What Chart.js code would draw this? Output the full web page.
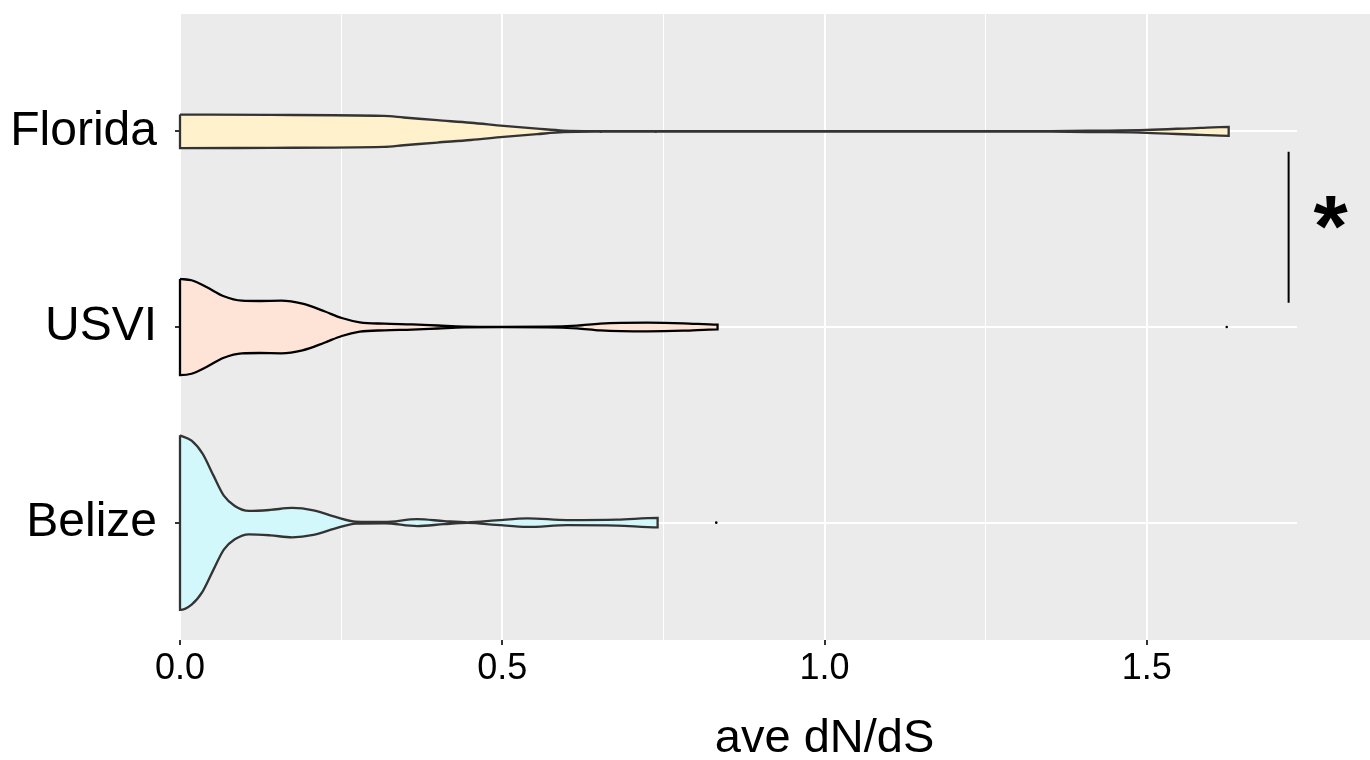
<!DOCTYPE html>
<html>
<head>
<meta charset="utf-8">
<title>ave dN/dS</title>
<script src="https://cdn.jsdelivr.net/npm/chart.js@4.4.1/dist/chart.umd.min.js"></script>
<style>
  html, body { margin: 0; padding: 0; background: #ffffff; }
  canvas { display: block; }
</style>
</head>
<body>
<canvas id="violinChart" width="1370" height="760"></canvas>
<script>
const categories = ['Belize', 'USVI', 'Florida'];
const xTicks = [0, 0.25, 0.5, 0.75, 1, 1.25, 1.5];
const xLabels = ['0.0', '', '0.5', '', '1.0', '', '1.5'];

// violin outlines: dN/dS value and half width (in category units)
const floridaX = [0, 0.14, 0.316, 0.347, 0.399, 0.451, 0.502, 0.554, 0.595, 0.65, 0.8, 1.0, 1.2, 1.35, 1.42, 1.5, 1.583, 1.627];
const floridaHalf = [0.086, 0.084, 0.079, 0.071, 0.057, 0.044, 0.028, 0.014, 0.004, 0.0015, 0.001, 0.001, 0.001, 0.0015, 0.0036, 0.0072, 0.0184, 0.0225];

const usviX = [0, 0.018, 0.041, 0.068, 0.096, 0.124, 0.157, 0.19, 0.224, 0.251, 0.279, 0.317, 0.36, 0.40, 0.44, 0.5, 0.57, 0.616, 0.652, 0.725, 0.781, 0.834];
const usviHalf = [0.2455, 0.2389, 0.2046, 0.157, 0.1345, 0.133, 0.1345, 0.1192, 0.0803, 0.046, 0.024, 0.0169, 0.0133, 0.0077, 0.002, 0.001, 0.0015, 0.0066, 0.0169, 0.022, 0.0189, 0.0118];

const belizeX = [0, 0.018, 0.035, 0.052, 0.068, 0.085, 0.107, 0.14, 0.174, 0.207, 0.24, 0.273, 0.317, 0.368, 0.41, 0.446, 0.49, 0.539, 0.601, 0.678, 0.741];
const belizeHalf = [0.4462, 0.4191, 0.3527, 0.2402, 0.138, 0.0854, 0.0598, 0.0649, 0.0751, 0.0629, 0.0307, 0.0051, 0.0031, 0.0179, 0.0077, 0.0015, 0.0112, 0.022, 0.0128, 0.0153, 0.0245];

// stray points
const dotX = [0.653, 0.738, 1.624, 0.832];
const dotY = [2, 2, 1, 0];

// significance bracket between Florida and USVI
const bracketX = [1.72, 1.72];
const bracketY = [1.896, 1.124];
const starText = '*';
const starX = 1.785;
const starY = 1.574;

const fontFamily = '"Liberation Sans", Arial, Helvetica, sans-serif';

function violinOutline(xs, half, center) {
  const upper = xs.map((x, i) => ({ x: x, y: center + half[i] }));
  const lower = xs.map((x, i) => ({ x: x, y: center - half[i] })).reverse();
  return upper.concat(lower, [upper[0]]);
}

function violinDataset(xs, half, center, fillColor, lineColor) {
  return {
    data: violinOutline(xs, half, center),
    showLine: true,
    fill: 'shape',
    backgroundColor: fillColor,
    borderColor: lineColor,
    borderWidth: 2.3,
    pointRadius: 0,
    cubicInterpolationMode: 'monotone',
    clip: false
  };
}

// grey panel runs to the right edge of the picture
const panelBackground = {
  id: 'panelBackground',
  beforeDraw(chart) {
    const { ctx, chartArea } = chart;
    ctx.save();
    ctx.fillStyle = '#EBEBEB';
    ctx.fillRect(chartArea.left, chartArea.top, chart.width - chartArea.left, chartArea.bottom - chartArea.top);
    ctx.restore();
  }
};

// asterisk and axis title
const annotations = {
  id: 'annotations',
  afterDraw(chart) {
    const { ctx } = chart;
    const xScale = chart.scales.x;
    const yScale = chart.scales.y;
    ctx.save();
    ctx.fillStyle = '#000000';
    ctx.textAlign = 'center';
    ctx.textBaseline = 'alphabetic';
    const starSize = 88;
    ctx.font = 'bold ' + starSize + 'px ' + fontFamily;
    ctx.fillText(starText, xScale.getPixelForValue(starX), yScale.getPixelForValue(starY) + starSize * 0.47);
    ctx.font = '47px ' + fontFamily;
    ctx.fillText('ave dN/dS', xScale.getPixelForValue(1), chart.height - 8);
    ctx.restore();
  }
};

new Chart(document.getElementById('violinChart'), {
  type: 'scatter',
  data: {
    datasets: [
      violinDataset(floridaX, floridaHalf, 2, '#FFF1CC', '#333333'),
      violinDataset(usviX, usviHalf, 1, '#FDE4D6', '#000000'),
      violinDataset(belizeX, belizeHalf, 0, '#D3F8FC', '#333333'),
      {
        data: dotX.map((x, i) => ({ x: x, y: dotY[i] })),
        pointRadius: 1.3,
        pointBackgroundColor: '#000000',
        pointBorderWidth: 0,
        showLine: false
      },
      {
        data: bracketX.map((x, i) => ({ x: x, y: bracketY[i] })),
        showLine: true,
        borderColor: '#000000',
        borderWidth: 2,
        pointRadius: 0,
        fill: false
      }
    ]
  },
  options: {
    responsive: false,
    animation: false,
    devicePixelRatio: 1,
    layout: { padding: { top: 14, right: 73, left: 0, bottom: 0 } },
    plugins: {
      legend: { display: false },
      tooltip: { enabled: false }
    },
    scales: {
      x: {
        type: 'linear',
        min: 0,
        max: 1.733,
        afterBuildTicks: scale => { scale.ticks = xTicks.map(v => ({ value: v })); },
        afterFit: scale => {
          scale.height = 120;
          scale.paddingLeft = 0;
          scale.paddingRight = 0;
        },
        grid: {
          color: '#FFFFFF',
          lineWidth: c => (xLabels[c.index] ? 2 : 1),
          tickColor: c => (xLabels[c.index] ? '#333333' : 'rgba(0,0,0,0)'),
          tickLength: 5,
          tickWidth: 2
        },
        border: { display: false },
        ticks: {
          autoSkip: false,
          maxRotation: 0,
          padding: 2,
          color: '#000000',
          font: { size: 36, family: fontFamily },
          callback: (value, index) => xLabels[index]
        }
      },
      y: {
        type: 'linear',
        min: -0.6,
        max: 2.6,
        afterBuildTicks: scale => { scale.ticks = categories.map((c, i) => ({ value: i })); },
        afterFit: scale => {
          scale.width = 180;
          scale.paddingTop = 0;
          scale.paddingBottom = 0;
        },
        grid: {
          color: '#FFFFFF',
          lineWidth: 2,
          tickColor: '#333333',
          tickLength: 5,
          tickWidth: 2
        },
        border: { display: false },
        ticks: {
          padding: 18,
          color: '#000000',
          font: { size: 48, family: fontFamily },
          callback: value => categories[value]
        }
      }
    }
  },
  plugins: [panelBackground, annotations]
});
</script>
</body>
</html>
